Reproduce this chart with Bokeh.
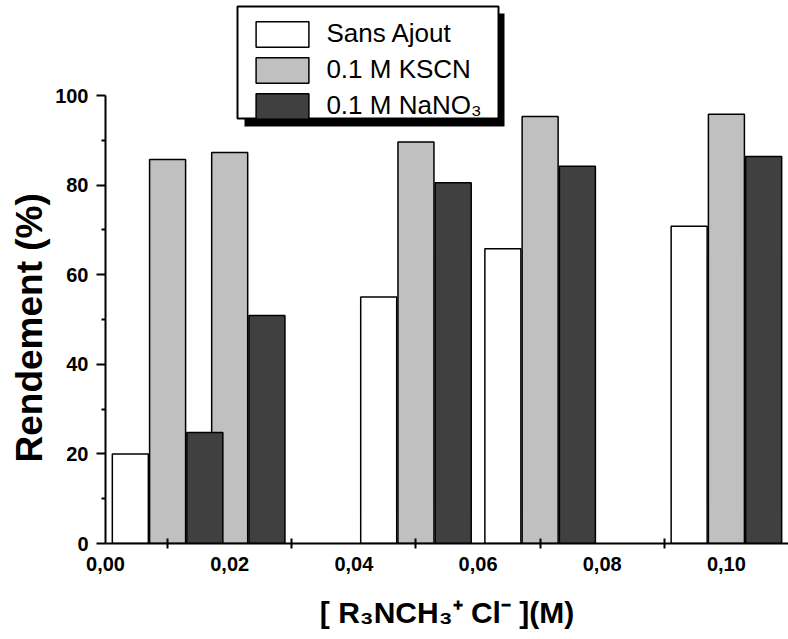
from bokeh.plotting import figure
from bokeh.models import Range1d, FixedTicker, Legend, LegendItem, BoxAnnotation, ColumnDataSource, Title
from bokeh.embed import file_html
from bokeh.resources import INLINE

# ---- data ----
concentrations = [0.01, 0.02, 0.05, 0.07, 0.10]
sans_ajout = [20.0, None, 55.0, 65.8, 70.8]
kscn = [85.7, 87.3, 89.6, 95.3, 95.8]
nano3 = [24.8, 50.9, 80.5, 84.2, 86.4]
series_labels = ["Sans Ajout", "0.1 M KSCN", "0.1 M NaNO\u2083"]
x_tick_values = [0.0, 0.02, 0.04, 0.06, 0.08, 0.10]
x_tick_labels = ["0,00", "0,02", "0,04", "0,06", "0,08", "0,10"]
x_minor_ticks = [0.01, 0.03, 0.05, 0.07, 0.09]
y_tick_values = [0, 20, 40, 60, 80, 100]
y_minor_ticks = [10, 30, 50, 70, 90]
x_title = "[ R\u2083NCH\u2083\u207a Cl\u207b ](M)"
y_title = "Rendement (%)"

# ---- style / layout ----
W, H = 788, 639
LEFT, BOTTOM = 105, 96
BAR_W = 0.0058
OFFSET = 0.006
COLORS = ["#FFFFFF", "#C0C0C0", "#404040"]
FONT = "Liberation Sans"
X_END = 0.11
FRAME_H = H - BOTTOM
Y_TOP = 100 * FRAME_H / (FRAME_H - 95)
PX_X = X_END / (W - LEFT)
PX_Y = Y_TOP / FRAME_H

p = figure(width=W, height=H, output_backend="svg", toolbar_location=None,
           x_range=Range1d(0, X_END), y_range=Range1d(0, Y_TOP),
           min_border_left=LEFT, min_border_right=0, min_border_top=0, min_border_bottom=BOTTOM)
p.outline_line_color = None
p.xgrid.visible = False
p.ygrid.visible = False
p.background_fill_color = "white"

renderers = []
for vals, off, col in zip([sans_ajout, kscn, nano3], [-OFFSET, 0, OFFSET], COLORS):
    xs = [c + off for c, v in zip(concentrations, vals) if v is not None]
    ys = [v for v in vals if v is not None]
    src = ColumnDataSource(dict(x=xs, top=ys))
    r = p.vbar(x="x", top="top", bottom=0, width=BAR_W, source=src,
               fill_color=col, line_color="black", line_width=1.5)
    renderers.append(r)

# axes
xa = p.xaxis[0]
xa.ticker = FixedTicker(ticks=x_tick_values, minor_ticks=x_minor_ticks)
xa.major_label_overrides = {v: s for v, s in zip(x_tick_values, x_tick_labels)}
xa.major_tick_in = 0
xa.major_tick_out = 0
xa.minor_tick_in = 5
xa.minor_tick_out = 5
xa.minor_tick_line_width = 2
xa.minor_tick_line_color = "black"
xa.major_label_standoff = 8
xa.axis_label = x_title
xa.axis_label_text_font_size = "30px"
xa.axis_label_standoff = 22

ya = p.yaxis[0]
ya.ticker = FixedTicker(ticks=y_tick_values, minor_ticks=y_minor_ticks)
ya.bounds = (0, 100)
ya.major_tick_in = 0
ya.major_tick_out = 9
ya.minor_tick_in = 0
ya.minor_tick_out = 4
ya.major_tick_line_width = 2
ya.minor_tick_line_width = 2
ya.minor_tick_line_color = "black"
ya.major_label_standoff = 8

for ax in (xa, ya):
    ax.axis_line_width = 2
    ax.axis_line_color = "black"
    ax.major_tick_line_color = "black"
    ax.major_label_text_font = FONT
    ax.major_label_text_font_style = "bold"
    ax.major_label_text_font_size = "20px"
    ax.major_label_text_color = "black"
    ax.axis_label_text_font = FONT
    ax.axis_label_text_font_style = "bold"
    ax.axis_label_text_color = "black"

# y title as a side title, starting near the bottom of the 0-100 span
ytitle = Title(text=y_title, align="left", offset=81,
               text_font=FONT, text_font_style="bold", text_font_size="37px",
               text_color="black", standoff=6)
p.add_layout(ytitle, "left")


# legend frame and shadow (decorations), placed in pixel terms
def px_box(x0, x1, y0, y1, **kw):
    return BoxAnnotation(left=(x0 - LEFT) * PX_X, right=(x1 - LEFT) * PX_X,
                         top=(FRAME_H - y0) * PX_Y, bottom=(FRAME_H - y1) * PX_Y, **kw)


shadow = px_box(244, 504, 13, 126, fill_color="black", fill_alpha=1.0, line_color=None)
frame_box = px_box(237, 498, 6, 118, fill_color="white", fill_alpha=1.0,
                   line_color="black", line_width=2, line_alpha=1.0)
p.add_layout(shadow)
p.add_layout(frame_box)

legend = Legend(items=[LegendItem(label=l, renderers=[r]) for l, r in zip(series_labels, renderers)],
                location=(249.4 - LEFT, FRAME_H - 121.5))
legend.border_line_color = None
legend.background_fill_alpha = 0.0
legend.label_text_font = FONT
legend.label_text_font_size = "26px"
legend.label_text_color = "black"
legend.glyph_width = 66
legend.glyph_height = 32
legend.label_height = 26
legend.label_standoff = 11
legend.spacing = 4
legend.padding = 0
legend.margin = 0
p.add_layout(legend, "center")

open("out.html", "w").write(file_html(p, INLINE))
